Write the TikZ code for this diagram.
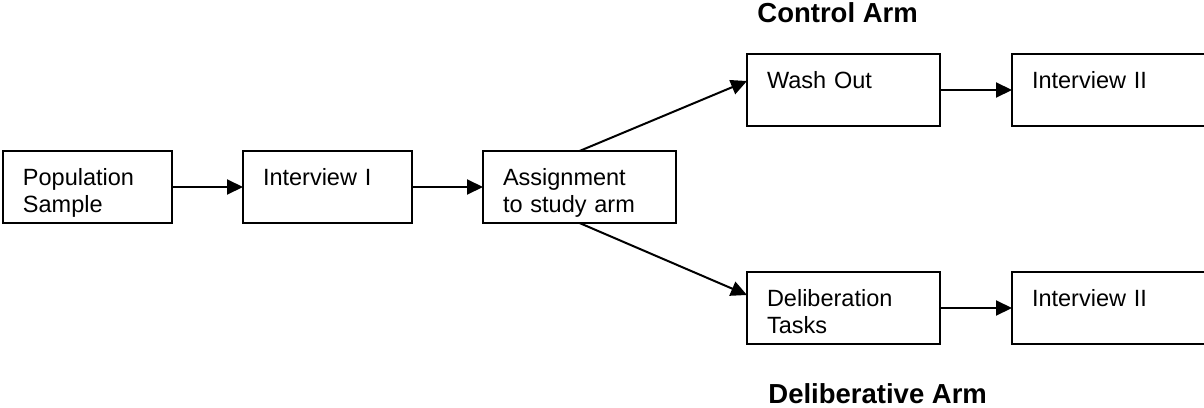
\documentclass[tikz,border=0pt]{standalone}
\usepackage{fontspec}
\setmainfont{Liberation Sans}
\usetikzlibrary{arrows.meta,positioning}
\definecolor{ink}{RGB}{0,0,0}
\tikzset{
  >={Triangle[length=8pt,width=7.5pt]},
  stage/.style={draw=ink,line width=1pt,rectangle,inner xsep=10pt,inner ysep=0pt,outer sep=0pt,
    text width=#1,align=left,text height=17pt,text depth=19pt,
    font=\fontsize{11.75}{13.5}\selectfont},
  stage/.default=64.5pt,
  wide stage/.style={stage=76.5pt},
  flow/.style={->,line width=1pt,draw=#1},
  flow/.default=ink,
  armtitle/.style={font=\fontsize{13.75}{16}\selectfont\bfseries,inner sep=0pt,anchor=base west},
}
\begin{document}
\begin{tikzpicture}[x=0.5pt,y=-0.5pt,node distance=35.5pt]
  \useasboundingbox (0,0) rectangle (1204,407);
  % main line
  \node[stage] (pop) at (87.5,187) {Population\\Sample};
  \node[stage,right=of pop] (int1) {Interview I};
  \node[wide stage,right=of int1] (assign) {Assignment\\to study arm};
  % the two arms
  \node[wide stage,above right=12.5pt and 35.5pt of assign] (wash) {Wash Out};
  \node[wide stage,right=36pt of wash] (int2c) {Interview II};
  \node[wide stage,below right=24.5pt and 35.5pt of assign] (delib) {Deliberation\\Tasks};
  \node[wide stage,right=36pt of delib] (int2d) {Interview II};
  \node[armtitle] (ctrl) at ([xshift=5pt,yshift=16pt]wash.north west) {Control Arm};
  \node[armtitle] (delarm) at ([xshift=10.5pt,yshift=-29.5pt]delib.south west) {Deliberative Arm};
  % connectors
  \draw[flow] (pop) -- (int1);
  \draw[flow] (int1) -- (assign);
  \draw[flow] (assign.north) -- ([yshift=4.5pt]wash.west);
  \draw[flow] (assign.south) -- ([yshift=6.5pt]delib.west);
  \draw[flow] (wash) -- (int2c);
  \draw[flow] (delib) -- (int2d);
\end{tikzpicture}
\end{document}
